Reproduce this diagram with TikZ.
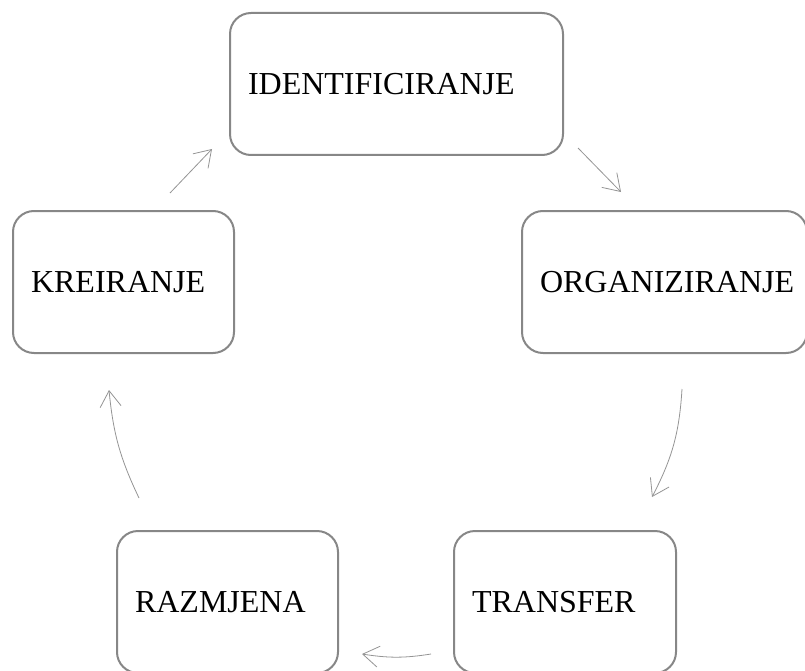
\documentclass[tikz,border=0pt]{standalone}
\usepackage{fontspec}
\setmainfont{Liberation Serif}
\usetikzlibrary{arrows.meta}
\begin{document}
\begin{tikzpicture}[x=1pt,y=-1pt,
  stagebox/.style={draw=black!47, line width=2pt, rounded corners=21pt,
    anchor=north west, minimum height=142pt, inner xsep=18pt, inner ysep=0pt,
    text width=#1, align=left, font=\fontsize{32}{38}\selectfont},
  flow/.style={draw=black!42, line width=0.8pt, -{Straight Barb[length=16pt,width=21pt]}}]
\useasboundingbox (0,0) rectangle (805,671);
\node[stagebox=297pt] (ident) at (229,12) {IDENTIFICIRANJE};
\node[stagebox=185pt] (kre) at (12,210) {KREIRANJE};
\node[stagebox=249pt] (org) at (521,210) {ORGANIZIRANJE};
\node[stagebox=185pt] (raz) at (116,530) {RAZMJENA};
\node[stagebox=186pt] (tra) at (453,530) {TRANSFER};
\coordinate (a1) at (170,193); \coordinate (b1) at (212,149);
\coordinate (a2) at (578,148); \coordinate (b2) at (621,192);
\coordinate (a3) at (682,389); \coordinate (b3) at (652,497);
\coordinate (a4) at (431,654); \coordinate (b4) at (362,654);
\coordinate (a5) at (139,498); \coordinate (b5) at (109,390);
\draw[flow] (a1) -- (b1);
\draw[flow] (a2) -- (b2);
\draw[flow] (a3) to[bend left=12] (b3);
\draw[flow] (a4) to[bend left=9] (b4);
\draw[flow] (a5) to[bend left=10] (b5);
\end{tikzpicture}
\end{document}
